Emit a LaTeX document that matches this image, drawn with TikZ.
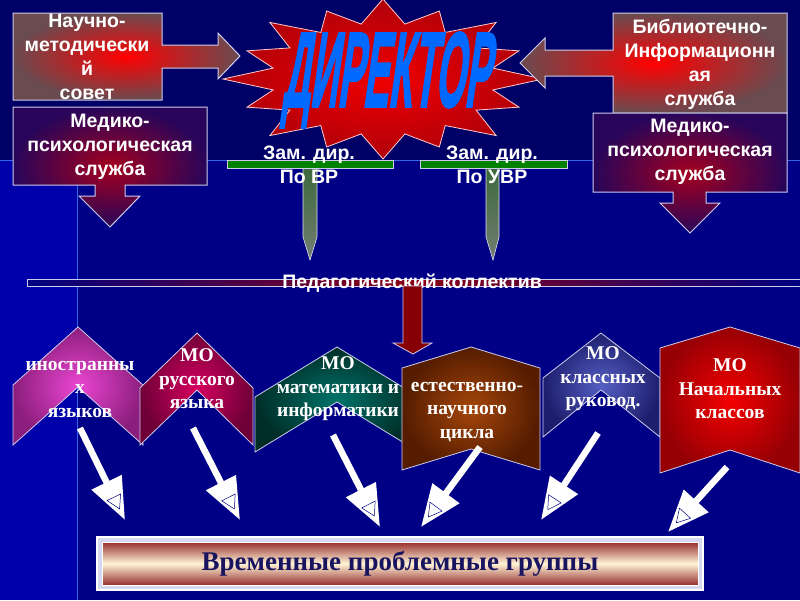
\documentclass[tikz,border=0pt]{standalone}
\usepackage{fontspec}
\setmainfont{Liberation Serif}
\setsansfont{Liberation Sans}
\newfontfamily\dirfont{Liberation Sans}[BoldFeatures={FakeSlant=0.4,FakeBold=2.5}]
\usepackage{graphicx}
\usetikzlibrary{arrows.meta,shapes.geometric,decorations.markings}

\definecolor{bgtop}{RGB}{0,0,102}
\definecolor{bgmid}{RGB}{0,0,135}
\definecolor{bgleft}{RGB}{0,0,170}
\definecolor{bgline}{RGB}{50,100,230}
\definecolor{bgnavy}{RGB}{0,0,128}
\definecolor{frame}{RGB}{205,205,235}
\definecolor{callred}{RGB}{255,0,0}
\definecolor{callgrey}{RGB}{105,75,80}
\definecolor{medred}{RGB}{165,0,30}
\definecolor{medindigo}{RGB}{40,5,90}
\definecolor{burstin}{RGB}{240,0,0}
\definecolor{burstout}{RGB}{175,0,10}
\definecolor{dirblue}{RGB}{0,105,255}
\definecolor{tgreen}{RGB}{0,130,0}
\definecolor{stemtop}{RGB}{60,105,60}
\definecolor{stembot}{RGB}{115,125,115}
\definecolor{pedred}{RGB}{140,0,20}
\definecolor{pedarrow}{RGB}{135,0,5}
\definecolor{magin}{RGB}{235,70,210}
\definecolor{magout}{RGB}{140,30,125}
\definecolor{crimin}{RGB}{215,0,95}
\definecolor{crimout}{RGB}{110,0,55}
\definecolor{grnin}{RGB}{0,115,105}
\definecolor{grnout}{RGB}{0,45,40}
\definecolor{brnin}{RGB}{165,70,10}
\definecolor{brnout}{RGB}{85,28,0}
\definecolor{navin}{RGB}{85,95,195}
\definecolor{navout}{RGB}{30,30,110}
\definecolor{redin}{RGB}{245,0,0}
\definecolor{redout}{RGB}{150,0,5}
\definecolor{grpred}{RGB}{150,45,45}
\definecolor{grpcream}{RGB}{255,245,215}
\definecolor{grpframe}{RGB}{215,215,240}
\definecolor{grptext}{RGB}{25,20,95}

\begin{document}
\begin{tikzpicture}[x=1pt,y=-1pt,
declare function={rr(\k)=0.7+0.3*(1-mod(\k,2))-0.08*(mod(\k,4)==2);},
callout/.style={draw=frame,line width=1pt,inner color=callred,outer color=callgrey},
medcall/.style={draw=frame,line width=1pt,inner color=medred,outer color=medindigo},
burst/.style={draw=white!80!red,line width=0.8pt,inner color=burstin,outer color=burstout},
sanstext/.style={text=white,font=\sffamily\bfseries\fontsize{19.5}{24}\selectfont,align=center,inner sep=0pt},
chev/.style={draw=frame,line width=0.8pt},
chevtext/.style={text=white,font=\bfseries\fontsize{19.5}{23.5}\selectfont,align=center,inner sep=0pt},
tbar/.style={draw=frame,line width=0.6pt,fill=tgreen},
tstem/.style={draw=frame!60,line width=0.6pt,top color=stemtop,bottom color=stembot},
tri/.style={isosceles triangle,isosceles triangle apex angle=60,draw=bgnavy,line width=0.5pt,fill=white,inner sep=0pt,minimum size=13pt,transform shape},
grpflow/.style={draw=white,line width=6.5pt,-{Triangle[length=42pt,width=32pt]},
  postaction={decorate,decoration={markings,mark=at position -21pt with {\node[tri] {};}}}},
grouptext/.style={text=grptext,font=\bfseries\fontsize{27}{30}\selectfont,inner sep=0pt}]
\useasboundingbox (0,0) rectangle (800,600);
\fill[bgmid] (0,0) rectangle (800,600);
\fill[bgtop] (0,0) rectangle (800,160);
\fill[bgleft] (0,160) rectangle (77,600);
\draw[bgline,line width=0.8pt] (0,160) -- (800,160) (77,160) -- (77,600);

\draw[burst] plot[samples at={0,...,31},variable=\k]
  ({383+160*rr(\k)*cos(-90+11.25*\k)},{79+80*rr(\k)*sin(-90+11.25*\k)}) -- cycle;

\draw[callout] (13,13) -- (162,13) -- (162,45) -- (218,45) -- (218,33) -- (240,56) -- (218,79)
  -- (218,68) -- (162,68) -- (162,100) -- (13,100) -- cycle;
\node[sanstext] (nmsovet) at (87,57) {Научно-\\методически\\й\\совет};
\draw[medcall] (13,107) -- (207,107) -- (207,185) -- (125,185) -- (125,196) -- (140,196) -- (110,227)
  -- (79,196) -- (95,196) -- (95,185) -- (13,185) -- cycle;
\node[sanstext] (medleft) at (110,147) {Медико-\\психологическая\\служба};

\draw[callout] (787,13) -- (613,13) -- (613,50) -- (545,50) -- (545,38) -- (520,63) -- (545,88)
  -- (545,76) -- (613,76) -- (613,113) -- (787,113) -- cycle;
\node[sanstext] (biblio) at (700,64) {Библиотечно-\\Информационн\\ая\\служба};
\draw[medcall] (593,113) -- (787,113) -- (787,192) -- (706,192) -- (706,203) -- (720,203) -- (690,233)
  -- (660,203) -- (673,203) -- (673,192) -- (593,192) -- cycle;
\node[sanstext] (medright) at (690,152) {Медико-\\психологическая\\служба};

\node[text=dirblue] (director) at (386,80) {\dirfont\bfseries\resizebox{207pt}{74pt}{ДИРЕКТОР}};

\draw[tstem] (303,168) -- (317,168) -- (317,237) -- (310,260) -- (303,237) -- cycle;
\draw[tbar] (227,160) rectangle (393,168);
\node[sanstext] (zamvr) at (309,165) {Зам. дир.\\По ВР};
\draw[tstem] (486,168) -- (499,168) -- (499,237) -- (493,260) -- (486,237) -- cycle;
\draw[tbar] (420,160) rectangle (567,168);
\node[sanstext] (zamuvr) at (492,165) {Зам. дир.\\По УВР};

\draw[draw=frame,line width=0.8pt,left color=bgnavy,right color=bgnavy,middle color=pedred] (27,279) rectangle (800,286);
\node[sanstext] (pedcoll) at (412,283) {Педагогический коллектив};
\draw[draw=frame,line width=0.8pt,fill=pedarrow] (403,286) -- (422,286) -- (422,343) -- (432,343)
  -- (413,354) -- (393,343) -- (403,343) -- cycle;

\draw[chev,inner color=magin,outer color=magout] (13,445) -- (13,385) -- (78,327) -- (143,385) -- (143,445) -- (78,387) -- cycle;
\node[chevtext] (lang) at (80,389) {иностранны\\х\\языков};
\draw[chev,inner color=crimin,outer color=crimout] (140,445) -- (140,388) -- (197,333) -- (253,388) -- (253,445) -- (197,390) -- cycle;
\node[chevtext] (rus) at (197,379) {МО\\русского\\языка};
\draw[chev,inner color=grnin,outer color=grnout] (255,452) -- (255,397) -- (337,347) -- (419,397) -- (419,452) -- (337,402) -- cycle;
\node[chevtext] (math) at (338,389) {МО\\математики и\\информатики};
\draw[chev,inner color=navin,outer color=navout] (543,437) -- (543,378) -- (601,333) -- (660,378) -- (660,437) -- (601,390) -- cycle;
\node[chevtext] (klass) at (603,379) {МО\\классных\\руковод.};
\draw[chev,inner color=brnin,outer color=brnout] (402,470) -- (402,368) -- (471,347) -- (540,368) -- (540,470) -- (471,449) -- cycle;
\node[chevtext] (nat) at (467,412) {естественно-\\научного\\цикла};
\draw[chev,inner color=redin,outer color=redout] (660,473) -- (660,348) -- (730,327) -- (800,348) -- (800,473) -- (730,450) -- cycle;
\node[chevtext] (nach) at (730,389) {МО\\Начальных\\классов};

\coordinate (lang-out) at (80,428);
\coordinate (rus-out) at (193,428);
\coordinate (math-out) at (333,435);
\coordinate (nat-out) at (480,447);
\coordinate (klass-out) at (598,433);
\coordinate (nach-out) at (727,467);
\coordinate (g1) at (125,520);
\coordinate (g2) at (240,520);
\coordinate (g3) at (380,527);
\coordinate (g4) at (421,527);
\coordinate (g5) at (541,520);
\coordinate (g6) at (668,532);
\draw[grpflow] (lang-out) -- (g1);
\draw[grpflow] (rus-out) -- (g2);
\draw[grpflow] (math-out) -- (g3);
\draw[grpflow] (nat-out) -- (g4);
\draw[grpflow] (klass-out) -- (g5);
\draw[grpflow] (nach-out) -- (g6);

\draw[draw=white,line width=1.2pt,fill=grpframe] (97,537) rectangle (703,590);
\draw[draw=white,line width=1pt,top color=grpred,bottom color=grpred,middle color=grpcream] (102,542) rectangle (698,585);
\node[grouptext] (groups) at (400,564) {Временные проблемные группы};
\end{tikzpicture}
\end{document}
